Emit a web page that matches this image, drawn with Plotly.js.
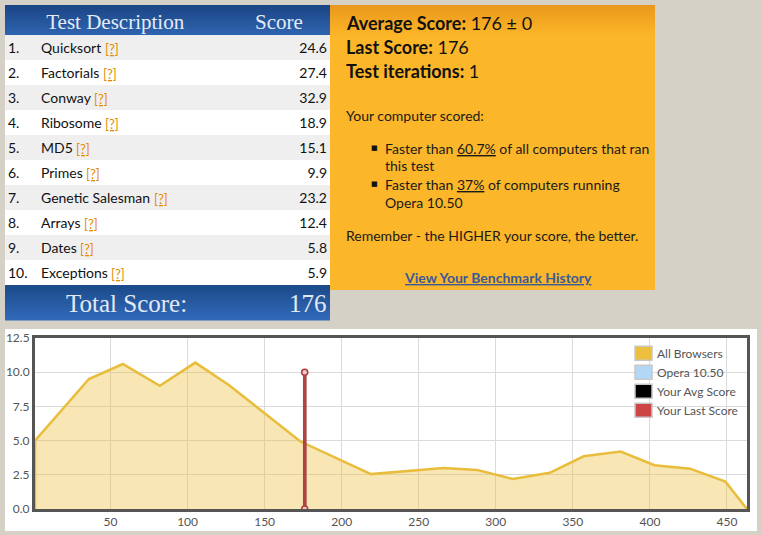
<!DOCTYPE html>
<html>
<head>
<meta charset="utf-8">
<script src="https://cdn.plot.ly/plotly-3.0.1.min.js"></script>
<style>html,body{margin:0;padding:0;background:#d5d1c7;}#chart{width:761px;height:535px;}</style>
</head>
<body>
<div id="chart"></div>
<script>
// ---- data ----
const testNums = ['1.','2.','3.','4.','5.','6.','7.','8.','9.','10.'];
const testNames = ['Quicksort','Factorials','Conway','Ribosome','MD5','Primes','Genetic Salesman','Arrays','Dates','Exceptions'];
const testScores = [24.6, 27.4, 32.9, 18.9, 15.1, 9.9, 23.2, 12.4, 5.8, 5.9];
const helpMark = '[?]';
const headerLabels = ['', 'Test Description', 'Score'];
const totalLabel = 'Total Score:';
const totalScore = 176;

const avgScore = 176, avgSpread = 0, lastScore = 176, iterations = 1;
const pctAll = '60.7%', pctBrowser = '37%', browserName = 'Opera 10.50';

// distribution of all browsers (score -> frequency %)
const distX = [1, 1, 36, 58, 82, 105, 127, 173, 219, 266, 288, 311, 335, 357, 381, 403, 426, 449, 463];
const distY = [0, 5.0, 9.5, 10.6, 9.0, 10.7, 9.05, 4.95, 2.55, 3.0, 2.85, 2.2, 2.65, 3.85, 4.2, 3.2, 2.95, 2.0, 0];
const markerY = [0, 10];
const xTicks = [50, 100, 150, 200, 250, 300, 350, 400, 450];
const legendNames = ['All Browsers', 'Opera 10.50', 'Your Avg Score', 'Your Last Score'];
const legendColors = ['#ecc03e', '#b2d8f6', '#000000', '#cc4444'];

// ---- helpers ----
const W = 761, H = 535;
const px = x => x / W;
const py = y => 1 - y / H;
const shapes = [];
const annotations = [];
function rect(x0, y0, x1, y1, color, extra) {
  shapes.push(Object.assign({type:'rect', xref:'paper', yref:'paper', x0:px(x0), x1:px(x1), y0:py(y1), y1:py(y0),
    fillcolor: color, line:{width:0}, layer:'below'}, extra || {}));
}
function hex2rgb(h){return [parseInt(h.substr(1,2),16),parseInt(h.substr(3,2),16),parseInt(h.substr(5,2),16)];}
function gradient(x0, y0, x1, y1, c0, c1, n) {
  const a = hex2rgb(c0), b = hex2rgb(c1);
  const step = (y1 - y0) / n;
  for (let i = 0; i < n; i++) {
    const t = n === 1 ? 0 : i / (n - 1);
    const c = 'rgb(' + a.map((v, k) => Math.round(v + (b[k] - v) * t)).join(',') + ')';
    rect(x0, y0 + i * step, x1, y0 + (i + 1) * step + 0.6, c);
  }
}
function text(x, y, t, opts) {
  const o = Object.assign({xanchor:'left', yanchor:'middle', font:{family:'Lato', size:14, color:'#1a1a1a'}}, opts || {});
  const dx = o.xanchor === 'left' ? -2 : (o.xanchor === 'right' ? 2 : 0);
  annotations.push(Object.assign({xref:'paper', yref:'paper', x:px(x + dx), y:py(y), text:t, showarrow:false}, o));
}
const measureCtx = document.createElement('canvas').getContext('2d');
function textWidth(s, font) { measureCtx.font = font; return measureCtx.measureText(s).width; }

// ---- panels ----
const tableTop = 5, headerH = 30, rowH = 25;
const rowsTop = tableTop + headerH;
gradient(5, tableTop, 330, rowsTop, '#1b4685', '#2e63af', 15);   // table header
testNames.forEach((_, i) => rect(5, rowsTop + i * rowH, 330, rowsTop + (i + 1) * rowH, i % 2 === 0 ? '#efefef' : '#ffffff'));
const rowsBottom = rowsTop + testNames.length * rowH;
gradient(5, rowsBottom, 330, rowsBottom + 35, '#1d4b8b', '#3169b8', 15);   // total row
gradient(330, 5, 655, 35, '#ea981c', '#fbb428', 15);        // orange box top
rect(330, 35, 655, 290, '#fcb62a');                          // orange box
rect(5, 329, 757, 531, '#ffffff');                           // chart panel

// total row text
text(126, rowsBottom + 18, totalLabel, {xanchor:'center', font:{family:'Liberation Serif', size:25, color:'#e2e9f4'}});
text(327, rowsBottom + 18, String(totalScore), {xanchor:'right', font:{family:'Liberation Serif', size:25, color:'#e2e9f4'}});

// help marks after each test name
testNames.forEach((n, i) => {
  const w = textWidth(n + ' ', '14px Lato');
  text(41 + w, rowsTop + i * rowH + 14, '<u>' + helpMark + '</u>', {font:{family:'Lato', size:13, color:'#e38b00'}});
});

// orange box text
const bigFont = {family:'Lato', size:18, color:'#111'};
text(346, 23, '<b>Average Score:</b> ' + avgScore + ' \u00b1 ' + avgSpread, {font:bigFont});
text(346, 47, '<b>Last Score:</b> ' + lastScore, {font:bigFont});
text(346, 71, '<b>Test iterations:</b> ' + iterations, {font:bigFont});
text(346, 116, 'Your computer scored:');
text(374, 148, '\u25A0', {xanchor:'center', font:{family:'DejaVu Sans', size:7, color:'#111'}});
text(385, 148, 'Faster than <u>' + pctAll + '</u> of all computers that ran');
text(385, 166, 'this test');
text(374, 184, '\u25A0', {xanchor:'center', font:{family:'DejaVu Sans', size:7, color:'#111'}});
text(385, 184, 'Faster than <u>' + pctBrowser + '</u> of computers running');
text(385, 202, browserName);
text(346, 236, 'Remember - the HIGHER your score, the better.');
text(497.5, 277, '<b><u>View Your Benchmark History</u></b>', {xanchor:'center', font:{family:'Lato', size:14, color:'#3a5a98'}});

// legend (inside plot, top right)
legendNames.forEach((name, i) => {
  const cy = 353.3 + i * 19;
  shapes.push({type:'rect', xref:'paper', yref:'paper', x0:px(635), x1:px(652), y0:py(cy + 7), y1:py(cy - 7),
    fillcolor: legendColors[i], line:{color:'#c8c8c8', width:1.5}, layer:'above'});
  text(657, cy, name, {font:{family:'Lato', size:12, color:'#555'}});
});

// ---- table (transparent; row fills drawn as shapes) ----
const shift = -1;
const NB = '\u00a0';
const table = {
  type:'table',
  domain:{x:[0, px(335)], y:[py(rowsBottom + shift + 3), py(tableTop)]},
  columnwidth:[33, 214, 88],
  header:{
    values: headerLabels.map((h, i) => i === 1 ? NB + h : h),
    align:['left','left','left'], height:headerH + shift,
    fill:{color:'rgba(0,0,0,0)'}, line:{width:0, color:'rgba(0,0,0,0)'},
    font:{family:'Liberation Serif', size:21, color:'#e4ebf6'}
  },
  cells:{
    values:[testNums, testNames, testScores.map(v => v.toFixed(1))],
    align:['left','left','right'], height:rowH,
    fill:{color:'rgba(0,0,0,0)'}, line:{width:0, color:'rgba(0,0,0,0)'},
    font:{family:'Lato', size:14, color:'#111'}
  }
};

// ---- chart traces ----
const area = {
  type:'scatter', mode:'lines', x:distX, y:distY, fill:'tozeroy',
  fillcolor:'rgba(236,190,60,0.38)', line:{color:'#e9bd3c', width:2.5, shape:'linear'},
  name: legendNames[0], hoverinfo:'skip', xaxis:'x', yaxis:'y'
};
const avgLine = {
  type:'scatter', mode:'lines', x:[avgScore, avgScore], y:markerY,
  line:{color:legendColors[2], width:3}, name: legendNames[2], xaxis:'x', yaxis:'y'
};
const lastLine = {
  type:'scatter', mode:'lines+markers', x:[lastScore, lastScore], y:markerY,
  line:{color:'#b54242', width:3.5},
  marker:{size:6, color:'#f3caca', line:{color:'#b03a3a', width:1.5}},
  name: legendNames[3], xaxis:'x', yaxis:'y'
};

const layout = {
  width:W, height:H, margin:{l:0, r:0, t:0, b:0},
  paper_bgcolor:'#d5d1c7', plot_bgcolor:'#ffffff', showlegend:false,
  xaxis:{domain:[px(35), px(747)], range:[1, 463], tickvals:xTicks, showgrid:true, gridcolor:'#dadada', gridwidth:1,
    showline:true, mirror:true, linecolor:'#555', linewidth:3, zeroline:false, ticks:'',
    tickfont:{family:'Lato', size:12, color:'#555'}, fixedrange:true},
  yaxis:{domain:[py(509), py(338)], range:[0, 12.5], dtick:2.5, tick0:0, tickformat:'.1f', showgrid:true, gridcolor:'#dadada',
    showline:true, mirror:true, linecolor:'#555', linewidth:3, zeroline:false, ticks:'',
    tickfont:{family:'Lato', size:12, color:'#555'}, fixedrange:true},
  shapes:shapes, annotations:annotations
};

Plotly.newPlot('chart', [table, area, avgLine, lastLine], layout, {displayModeBar:false, staticPlot:true});
</script>
</body>
</html>
